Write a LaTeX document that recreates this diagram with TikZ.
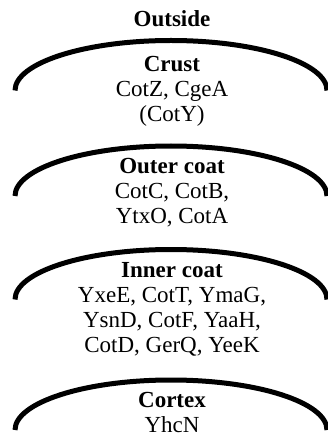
\documentclass[tikz,border=0pt]{standalone}
\usepackage{fontspec}
\setmainfont{Liberation Serif}
\begin{document}
\begin{tikzpicture}[x=1pt,y=-1pt,
  layerarc/.style={line width=5pt,line cap=butt,black},
  layertext/.style={anchor=base,align=center,inner sep=0pt,font=\fontsize{23}{25}\selectfont}]
\useasboundingbox (0,0) rectangle (328,438);
\clip (0,0) rectangle (328,438);
% arcs
\draw[layerarc] (15,90.5) arc[start angle=180,end angle=0,x radius=156pt,y radius=50pt];
\draw[layerarc] (15,196) arc[start angle=180,end angle=0,x radius=156pt,y radius=50pt];
\draw[layerarc] (15,299.5) arc[start angle=180,end angle=0,x radius=156pt,y radius=50pt];
\draw[layerarc] (15,430) arc[start angle=180,end angle=0,x radius=156pt,y radius=50pt];
% texts (base anchor = baseline of last line)
\node[layertext] (outside) at (172,27) {\textbf{Outside}};
\node[layertext] (crust) at (172,122) {\textbf{Crust}\\CotZ, CgeA\\(CotY)};
\node[layertext] (outer) at (172,223) {\textbf{Outer coat}\\CotC, CotB,\\YtxO, CotA};
\node[layertext] (inner) at (172,352) {\textbf{Inner coat}\\YxeE, CotT, YmaG,\\YsnD, CotF, YaaH,\\CotD, GerQ, YeeK};
\node[layertext] (cortex) at (172,432) {\textbf{Cortex}\\YhcN};
\end{tikzpicture}
\end{document}
